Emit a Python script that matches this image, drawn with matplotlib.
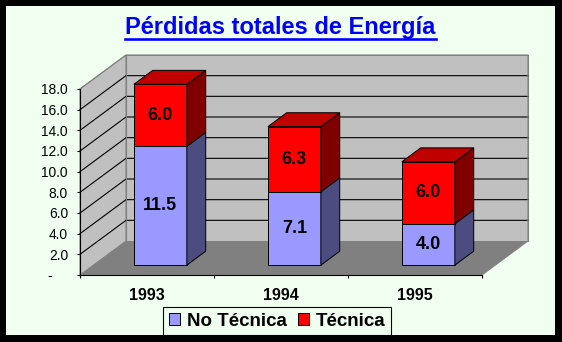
import matplotlib
matplotlib.use("Agg")
import matplotlib.pyplot as plt
from matplotlib.patches import Polygon, Rectangle, Patch
from matplotlib.lines import Line2D
import numpy as np

plt.rcParams['font.family'] = ['Liberation Sans', 'DejaVu Sans']

# ---- data ----
years = ["1993", "1994", "1995"]
no_tecnica = [11.5, 7.1, 4.0]
tecnica = [6.0, 6.3, 6.0]
series_names = ["No Técnica", "Técnica"]
y_ticks = [0, 2, 4, 6, 8, 10, 12, 14, 16, 18]
title = "Pérdidas totales de Energía"

# ---- style ----
BG = "#F0FFF0"
WALL = "#C0C0C0"
FLOOR = "#808080"
EDGE_GRAY = "#808080"
BLUE_F, BLUE_S, BLUE_T = "#9999FF", "#4C4C80", "#7373BF"
RED_F, RED_S, RED_T = "#FF0000", "#800000", "#C00000"

W, H = 562, 342
fig = plt.figure(figsize=(W / 100, H / 100), dpi=100, facecolor=BG)

# front plane in pixels: x 80..482, y 275 (0) .. 89 (18)
left_px, right_px, bot_px, top_px = 80, 482, 275, 89
ax = fig.add_axes([left_px / W, 1 - bot_px / H, (right_px - left_px) / W, (bot_px - top_px) / H])
ax.set_facecolor("none")
n = len(years)
ax.set_xlim(-0.5, n - 0.5)
ax.set_ylim(0, max(y_ticks))

px_x = (n) / (right_px - left_px)          # data units per pixel (x)
px_y = max(y_ticks) / (bot_px - top_px)    # data units per pixel (y)
DX = 46 * px_x
DY = 34 * px_y

def P(x, y, d):
    return (x + DX * d, y + DY * d)

def poly(pts, fc, ec, lw=1.0, z=1):
    ax.add_patch(Polygon(pts, closed=True, facecolor=fc, edgecolor=ec,
                         linewidth=lw * 0.72, clip_on=False, zorder=z,
                         joinstyle='miter'))

x0, x1 = -0.5, n - 0.5
ymax = max(y_ticks)
# floor
poly([P(x0, 0, 0), P(x1, 0, 0), P(x1, 0, 1), P(x0, 0, 1)], FLOOR, EDGE_GRAY, z=0.5)
# left wall
poly([P(x0, 0, 0), P(x0, 0, 1), P(x0, ymax, 1), P(x0, ymax, 0)], WALL, EDGE_GRAY, z=0.6)
# back wall
poly([P(x0, 0, 1), P(x1, 0, 1), P(x1, ymax, 1), P(x0, ymax, 1)], WALL, EDGE_GRAY, z=0.6)

# gridlines
for v in y_ticks[1:-1]:
    a, b, c = P(x0, v, 0), P(x0, v, 1), P(x1, v, 1)
    ax.add_line(Line2D([a[0], b[0], c[0]], [a[1], b[1], c[1]], color="black",
                       lw=0.8, clip_on=False, zorder=0.8))
# redraw wall edges on top of grid
for pts in ([P(x0, ymax, 0), P(x0, ymax, 1), P(x1, ymax, 1), P(x1, 0, 1)],
            [P(x0, 0, 1), P(x0, ymax, 1)]):
    xs, ys = zip(*pts)
    ax.add_line(Line2D(xs, ys, color=EDGE_GRAY, lw=0.8, clip_on=False, zorder=0.9))

# bars
bw = 53 * px_x
d0, d1 = 0.29, 0.70
for i in range(n):
    segs = [(0, no_tecnica[i], BLUE_F, BLUE_S, BLUE_T),
            (no_tecnica[i], no_tecnica[i] + tecnica[i], RED_F, RED_S, RED_T)]
    xa, xb = i - bw / 2, i + bw / 2
    for k, (b, t, fc, sc, tc) in enumerate(segs):
        poly([P(xa, b, d0), P(xb, b, d0), P(xb, t, d0), P(xa, t, d0)], fc, "black", z=3)
        poly([P(xb, b, d0), P(xb, b, d1), P(xb, t, d1), P(xb, t, d0)], sc, "black", z=3)
        if k == len(segs) - 1:
            poly([P(xa, t, d0), P(xb, t, d0), P(xb, t, d1), P(xa, t, d1)], tc, "black", z=3)
        cx, cy = P(i, (b + t) / 2, d0)
        ax.text(cx, cy, f"{t - b:.1f}", ha="center", va="center", fontsize=13,
                fontweight="bold", color="black", zorder=4)

# axes / ticks
for s in ("top", "right"):
    ax.spines[s].set_visible(False)
for s in ("left", "bottom"):
    ax.spines[s].set_color("black")
    ax.spines[s].set_linewidth(0.8)
ax.set_yticks(y_ticks)
ax.set_yticklabels(["-    " if v == 0 else f"{v:.1f}" for v in y_ticks])
ax.tick_params(axis="y", direction="out", length=2.2, width=0.8, pad=6.5,
               labelsize=9.9, colors="black")
ax.set_xticks([x0 + k for k in range(n + 1)])
ax.set_xticklabels([])
ax.tick_params(axis="x", which="major", direction="out", length=2.2, width=0.8)
ax.set_xticks(range(n), minor=True)
ax.set_xticklabels(years, minor=True, fontsize=11.5, fontweight="bold")
ax.tick_params(axis="x", which="minor", length=0, pad=9)

# title with underline
t = fig.text(280.5 / W, 1 - 34 / H, title, ha="center", va="baseline",
             fontsize=17, fontweight="bold", color="#0000FF")
fig.canvas.draw()
bb = t.get_window_extent()
fig.add_artist(Line2D([bb.x0 / W, bb.x1 / W], [1 - 39.3 / H, 1 - 39.3 / H],
                      transform=fig.transFigure, color="#0000FF", lw=1.9))

# legend
handles = [Patch(facecolor=BLUE_F, edgecolor="black", linewidth=0.7),
           Patch(facecolor=RED_F, edgecolor="black", linewidth=0.7)]
leg = fig.legend(handles, series_names, ncol=2, loc="upper left",
                 bbox_to_anchor=(163 / W, 1 - 307 / H), frameon=True,
                 fancybox=False, prop={"weight": "bold", "size": 13.5},
                 handlelength=0.6, handleheight=0.6, handletextpad=0.37,
                 columnspacing=0.6, borderpad=0.3, borderaxespad=0)
leg.get_frame().set_edgecolor("black")
leg.get_frame().set_linewidth(0.8)
leg.get_frame().set_facecolor(BG)
leg.get_frame().set_alpha(1)

# black frame
for (x, y, w, h) in [(0, 0, 6, H), (0, 0, W, 6), (555, 0, 7, H), (0, 335, W, 7)]:
    fig.add_artist(Rectangle((x / W, 1 - (y + h) / H), w / W, h / H,
                             transform=fig.transFigure, facecolor="black",
                             edgecolor="none", zorder=10))

fig.savefig("out.png", dpi=100, facecolor=BG)
